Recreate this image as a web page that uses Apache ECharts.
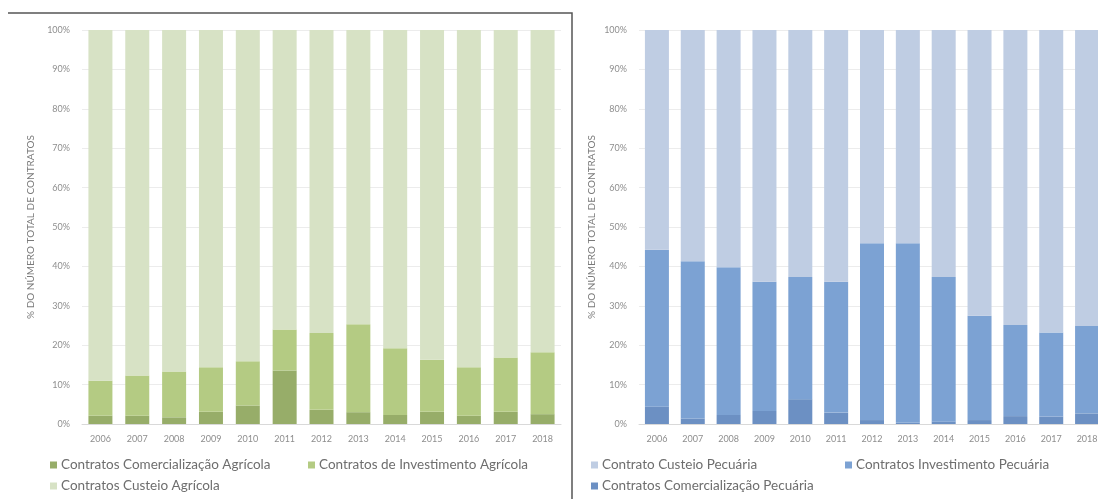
<!DOCTYPE html>
<html>
<head>
<meta charset="utf-8">
<script src="https://cdn.jsdelivr.net/npm/echarts@6/dist/echarts.min.js"></script>
<style>
  html, body { margin: 0; padding: 0; background: #ffffff; }
  #chart { width: 1098px; height: 499px; }
</style>
</head>
<body>
<div id="chart"></div>
<script>
// Years shown on both panels
const years = ['2006','2007','2008','2009','2010','2011','2012','2013','2014','2015','2016','2017','2018'];

// Agricultural contracts, % of total contracts per year
const agrComercializacao = [2.1, 2.1, 1.7, 3.1, 4.7, 13.6, 3.6, 3.0, 2.3, 3.1, 2.1, 3.1, 2.5];
const agrInvestimento    = [8.9, 10.2, 11.6, 11.3, 11.2, 10.4, 19.5, 22.3, 16.9, 13.2, 12.3, 13.8, 15.7];
const agrCusteio         = [89.0, 87.7, 86.7, 85.6, 84.1, 76.0, 76.9, 74.7, 80.8, 83.7, 85.6, 83.1, 81.8];

// Livestock contracts, % of total contracts per year
const pecComercializacao = [4.4, 1.4, 2.3, 3.3, 6.3, 2.9, 1.0, 0.3, 0.6, 1.0, 2.0, 1.9, 2.7];
const pecInvestimento    = [39.8, 39.9, 37.5, 32.8, 31.0, 33.2, 44.9, 45.6, 36.7, 26.5, 23.1, 21.3, 22.2];
const pecCusteio         = [55.8, 58.7, 60.2, 63.9, 62.7, 63.9, 54.1, 54.1, 62.7, 72.5, 74.9, 76.8, 75.1];

const yTicks = [0, 10, 20, 30, 40, 50, 60, 70, 80, 90, 100];
const yAxisTitle = '% DO NÚMERO TOTAL DE CONTRATOS';

const FONT = 'Lato, "Open Sans", sans-serif';
const tickColor = '#8e8e8e';
const legendColor = '#6e6e6e';

const colors = {
  agrCom: '#97ad69',
  agrInv: '#b4cb83',
  agrCus: '#d7e2c5',
  pecCom: '#6c90c3',
  pecInv: '#7ca2d3',
  pecCus: '#bfcde3'
};

function makeX(gridIndex) {
  return {
    type: 'category',
    gridIndex: gridIndex,
    data: years,
    axisLine: { lineStyle: { color: '#d9d9d9', width: 1 } },
    axisTick: { show: false },
    axisLabel: { color: tickColor, fontSize: 9, fontFamily: FONT, margin: 11 }
  };
}

function makeY(gridIndex, nameGap) {
  return {
    type: 'value',
    gridIndex: gridIndex,
    min: yTicks[0],
    max: yTicks[yTicks.length - 1],
    interval: 10,
    name: yAxisTitle,
    nameLocation: 'middle',
    nameGap: nameGap,
    nameTextStyle: { color: '#7a7a7a', fontSize: 10, fontFamily: FONT },
    axisLine: { show: false },
    axisTick: { show: false },
    axisLabel: { color: tickColor, fontSize: 9, fontFamily: FONT, margin: 12,
                 formatter: v => v + '%' },
    splitLine: { lineStyle: { color: '#ececec', width: 1 } }
  };
}

function bar(name, data, color, axisIdx, stack) {
  return {
    name: name,
    type: 'bar',
    stack: stack,
    xAxisIndex: axisIdx,
    yAxisIndex: axisIdx,
    data: data,
    barWidth: 24,
    itemStyle: { color: color },
    emphasis: { disabled: true }
  };
}

function legendItem(name, left, top) {
  return {
    data: [name],
    left: left,
    top: top,
    padding: 0,
    icon: 'rect',
    itemWidth: 7,
    itemHeight: 7,
    itemGap: 4,
    selectedMode: false,
    textStyle: { color: legendColor, fontSize: 13.5, fontFamily: FONT, padding: [0, 0, 0, -1] }
  };
}

const chart = echarts.init(document.getElementById('chart'), null, { renderer: 'canvas' });

chart.setOption({
  animation: false,
  backgroundColor: '#ffffff',
  grid: [
    { left: 82, top: 30, width: 479, height: 394, outerBoundsMode: 'none' },
    { left: 639, top: 30, width: 466, height: 394, outerBoundsMode: 'none' }
  ],
  xAxis: [makeX(0), makeX(1)],
  yAxis: [makeY(0, 46), makeY(1, 42)],
  legend: [
    legendItem('Contratos Comercialização Agrícola', 50, 458),
    legendItem('Contratos de Investimento Agrícola', 308, 458),
    legendItem('Contratos Custeio Agrícola', 50, 479),
    legendItem('Contrato Custeio Pecuária', 591, 458),
    legendItem('Contratos Investimento Pecuária', 845, 458),
    legendItem('Contratos Comercialização Pecuária', 591, 479)
  ],
  graphic: [
    // panel frame: top edge of the left panel and the divider between panels
    { type: 'polyline', silent: true,
      shape: { points: [[8, 13], [572, 13], [572, 499]] },
      style: { stroke: '#555555', lineWidth: 1.5, fill: null } }
  ],
  series: [
    bar('Contratos Comercialização Agrícola', agrComercializacao, colors.agrCom, 0, 'agr'),
    bar('Contratos de Investimento Agrícola', agrInvestimento, colors.agrInv, 0, 'agr'),
    bar('Contratos Custeio Agrícola', agrCusteio, colors.agrCus, 0, 'agr'),
    bar('Contratos Comercialização Pecuária', pecComercializacao, colors.pecCom, 1, 'pec'),
    bar('Contratos Investimento Pecuária', pecInvestimento, colors.pecInv, 1, 'pec'),
    bar('Contrato Custeio Pecuária', pecCusteio, colors.pecCus, 1, 'pec')
  ]
});
</script>
</body>
</html>
